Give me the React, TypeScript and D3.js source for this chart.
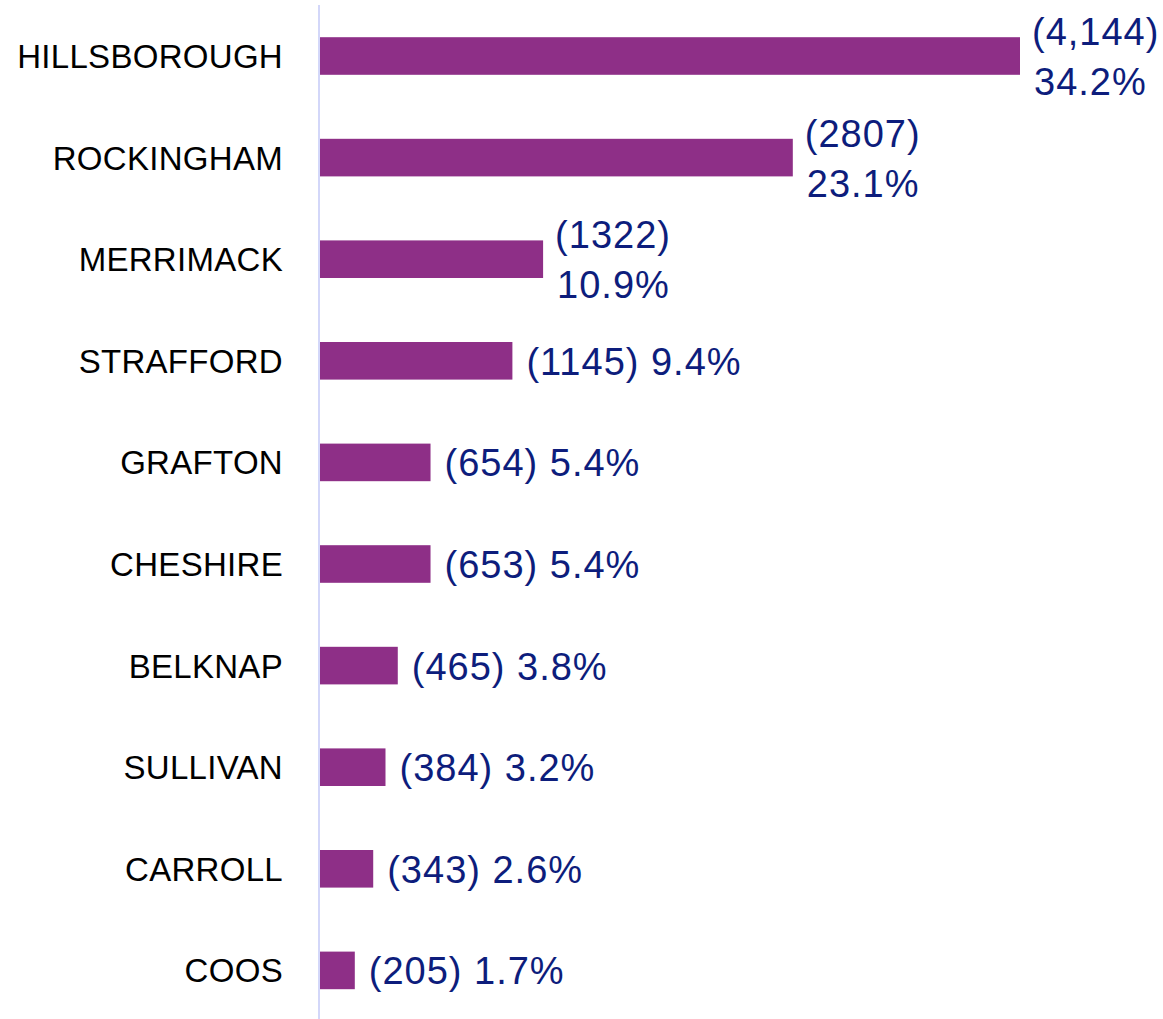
import React from "react";
import * as d3 from "d3";

const counties = [
  "HILLSBOROUGH",
  "ROCKINGHAM",
  "MERRIMACK",
  "STRAFFORD",
  "GRAFTON",
  "CHESHIRE",
  "BELKNAP",
  "SULLIVAN",
  "CARROLL",
  "COOS",
];
const countLabels = ["4,144", "2807", "1322", "1145", "654", "653", "465", "384", "343", "205"];
const percents = [34.2, 23.1, 10.9, 9.4, 5.4, 5.4, 3.8, 3.2, 2.6, 1.7];
const twoLine = [true, true, true, false, false, false, false, false, false, false];

const W = 1163;
const H = 1019;
const X0 = 320;

export default function App() {
  const x = d3.scaleLinear().domain([0, 34.2]).range([X0, 1020]);
  const y = d3
    .scaleBand<string>()
    .domain(counties)
    .range([5.2, 1021.2])
    .paddingInner(0.63)
    .paddingOuter(0.315);
  const bw = y.bandwidth();
  const valueColor = "#0d1d7c";
  const vFont = "'Liberation Sans', Arial, sans-serif";
  return (
    <svg
      width={W}
      height={H}
      style={{ position: "absolute", left: 0, top: 0, background: "#fff" }}
    >
      <line x1={319} x2={319} y1={5} y2={H} stroke="#c5caf7" strokeWidth={1.5} />
      {counties.map((c, i) => {
        const cy = (y(c) as number) + bw / 2;
        const xe = x(percents[i]);
        const pct = `${percents[i].toFixed(1)}%`;
        return (
          <g key={c}>
            <rect x={X0} y={y(c)} width={xe - X0} height={bw} fill="#8e2f87" />
            <text
              x={283}
              y={cy + 12}
              textAnchor="end"
              fontFamily="'Liberation Sans', Arial, sans-serif"
              fontSize={33}
              letterSpacing={0.3}
              fill="#000"
            >
              {c}
            </text>
            {twoLine[i] ? (
              <text
                x={xe + 12}
                fontFamily={vFont}
                fontSize={38}
                letterSpacing={1}
                fill={valueColor}
              >
                <tspan x={xe + 12} y={cy - 11}>{`(${countLabels[i]})`}</tspan>
                <tspan x={xe + 14} y={cy + 39}>{pct}</tspan>
              </text>
            ) : (
              <text
                x={xe + 14}
                y={cy + 14}
                fontFamily={vFont}
                fontSize={38}
                letterSpacing={1}
                fill={valueColor}
              >
                {`(${countLabels[i]}) ${pct}`}
              </text>
            )}
          </g>
        );
      })}
    </svg>
  );
}
